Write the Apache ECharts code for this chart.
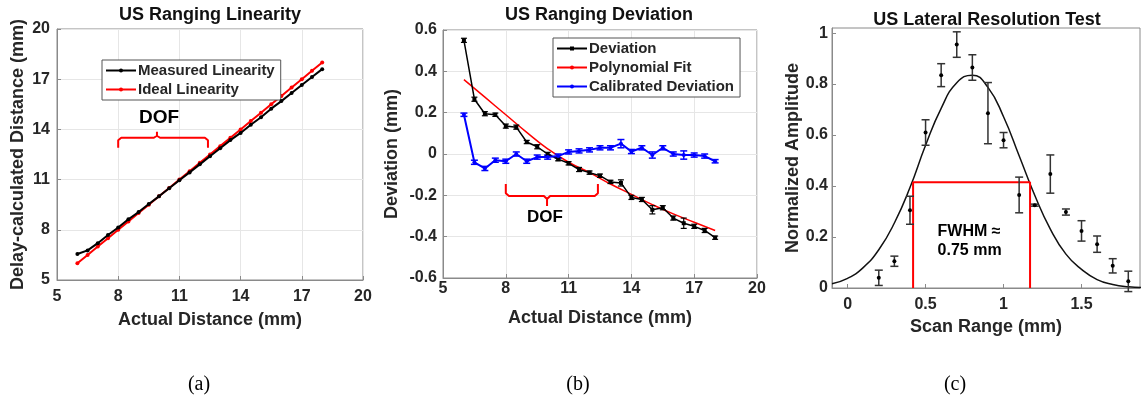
<!DOCTYPE html>
<html>
<head>
<meta charset="utf-8">
<script src="https://cdn.jsdelivr.net/npm/echarts@6/dist/echarts.min.js"></script>
<style>
  html, body { margin: 0; padding: 0; background: #fff; }
  #chart { width: 1141px; height: 408px; }
</style>
</head>
<body>
<div id="chart"></div>
<script>
// ---- data ----
// (a) US ranging linearity
const actualDist = [6, 6.5, 7, 7.5, 8, 8.5, 9, 9.5, 10, 10.5, 11, 11.5, 12, 12.5, 13, 13.5, 14, 14.5, 15, 15.5, 16, 16.5, 17, 17.5, 18];
const measuredDist = [6.55, 6.77, 7.2, 7.69, 8.14, 8.63, 9.06, 9.54, 10.0, 10.48, 10.96, 11.43, 11.91, 12.4, 12.87, 13.36, 13.79, 14.28, 14.73, 15.24, 15.69, 16.17, 16.65, 17.13, 17.6];
const idealDist = [6, 6.5, 7, 7.5, 8, 8.5, 9, 9.5, 10, 10.5, 11, 11.5, 12, 12.5, 13, 13.5, 14, 14.5, 15, 15.5, 16, 16.5, 17, 17.5, 18];
const braceA = [[8, 12.9], [8, 13.35], [8.15, 13.5], [9.75, 13.5], [9.9, 13.62], [9.9, 13.86], [9.9, 13.62], [10.05, 13.5], [12.25, 13.5], [12.4, 13.35], [12.4, 12.9]];
const dofA = [10.0, 14.68];

// (b) US ranging deviation
const deviation = [0.55, 0.265, 0.195, 0.19, 0.135, 0.13, 0.058, 0.035, 0.0, -0.025, -0.045, -0.075, -0.09, -0.105, -0.135, -0.14, -0.21, -0.22, -0.27, -0.26, -0.31, -0.335, -0.35, -0.37, -0.405];
const deviationErr = [0.01, 0.01, 0.01, 0.008, 0.01, 0.01, 0.008, 0.01, 0.008, 0.008, 0.008, 0.01, 0.008, 0.008, 0.008, 0.015, 0.01, 0.01, 0.02, 0.01, 0.01, 0.025, 0.01, 0.01, 0.008];
const fitX = [6, 7, 8, 9, 10, 11, 12, 13, 14, 15, 16, 17, 18];
const fitY = [0.36, 0.275, 0.19, 0.105, 0.025, -0.04, -0.09, -0.145, -0.195, -0.245, -0.29, -0.33, -0.37];
const calibrated = [0.19, -0.04, -0.07, -0.03, -0.035, 0.0, -0.035, -0.015, -0.015, -0.01, 0.01, 0.015, 0.02, 0.03, 0.03, 0.05, 0.012, 0.03, -0.005, 0.03, 0.0, -0.005, -0.005, -0.01, -0.035];
const calibratedErr = [0.008, 0.01, 0.01, 0.01, 0.01, 0.01, 0.01, 0.01, 0.01, 0.01, 0.01, 0.01, 0.01, 0.01, 0.01, 0.02, 0.01, 0.01, 0.015, 0.01, 0.01, 0.02, 0.01, 0.01, 0.008];
const braceB = [[8, -0.145], [8, -0.19], [8.15, -0.203], [9.82, -0.203], [9.97, -0.218], [9.97, -0.252], [9.97, -0.218], [10.12, -0.203], [12.25, -0.203], [12.4, -0.19], [12.4, -0.145]];
const dofB = [9.87, -0.305];

// (c) US lateral resolution test
const scanX = [0.2, 0.3, 0.4, 0.5, 0.6, 0.7, 0.8, 0.9, 1.0, 1.1, 1.2, 1.3, 1.4, 1.5, 1.6, 1.7, 1.8];
const amplitude = [0.04, 0.105, 0.305, 0.61, 0.835, 0.955, 0.865, 0.686, 0.58, 0.365, 0.325, 0.447, 0.298, 0.224, 0.172, 0.087, 0.026];
const amplitudeErr = [0.03, 0.02, 0.055, 0.05, 0.045, 0.05, 0.05, 0.12, 0.03, 0.07, 0.004, 0.075, 0.012, 0.04, 0.032, 0.028, 0.04];
const gaussX = [-0.1, 0, 0.1, 0.2, 0.3, 0.4, 0.5, 0.6, 0.7, 0.8, 0.9, 1.0, 1.1, 1.2, 1.3, 1.4, 1.5, 1.6, 1.7, 1.8, 1.9];
const gaussY = [0.017, 0.038, 0.08, 0.15, 0.255, 0.394, 0.56, 0.705, 0.805, 0.835, 0.787, 0.672, 0.519, 0.364, 0.231, 0.133, 0.073, 0.033, 0.014, 0.005, 0.002];
const fwhmBox = [[0.42, 0], [0.42, 0.415], [1.17, 0.415], [1.17, 0]];
const fwhmTextAt = [0.577, 0.184];
const scanTicks = [0, 0.5, 1, 1.5];

// ---- styling ----
const FONT = '"Liberation Sans", Arial, Helvetica, sans-serif';
const TEXT = '#262626';
const FRAME = '#8a8a8a';
const GRIDLINE = '#e6e6e6';

const pair = (xs, ys) => xs.map((x, i) => [x, ys[i]]);
const triple = (xs, ys, es) => xs.map((x, i) => [x, ys[i], es[i]]);

function errorBars(capHalf, color, width) {
    return function (params, api) {
        const x = api.value(0), y = api.value(1), e = api.value(2);
        const hi = api.coord([x, y + e]);
        const lo = api.coord([x, y - e]);
        const style = {stroke: color, lineWidth: width};
        return {
            type: 'group',
            children: [
                {type: 'line', shape: {x1: hi[0], y1: hi[1], x2: lo[0], y2: lo[1]}, style},
                {type: 'line', shape: {x1: hi[0] - capHalf, y1: hi[1], x2: hi[0] + capHalf, y2: hi[1]}, style},
                {type: 'line', shape: {x1: lo[0] - capHalf, y1: lo[1], x2: lo[0] + capHalf, y2: lo[1]}, style}
            ]
        };
    };
}

function axisBase(opt) {
    return Object.assign({
        type: 'value',
        axisLine: {show: true, onZero: false, lineStyle: {color: FRAME, width: 1}},
        axisTick: {show: true, inside: true, length: 4, lineStyle: {color: FRAME}},
        splitLine: {show: true, lineStyle: {color: GRIDLINE, width: 1}},
        axisLabel: {color: TEXT, fontSize: 16, fontWeight: 'bold', fontFamily: FONT},
        nameLocation: 'middle',
        nameTextStyle: {color: TEXT, fontSize: 18, fontWeight: 'bold', fontFamily: FONT}
    }, opt);
}

function textLabel(text, align, size) {
    return {
        show: true,
        formatter: text,
        position: [0, 0],
        align: align,
        verticalAlign: 'middle',
        color: '#000',
        opacity: 1,
        fontSize: size,
        fontWeight: 'bold',
        fontFamily: FONT,
        lineHeight: size + 3
    };
}

const legendBase = {
    orient: 'vertical',
    borderColor: '#555',
    borderWidth: 1,
    borderRadius: 0,
    backgroundColor: '#fff',
    itemWidth: 30,
    itemHeight: 5,
    itemGap: 4,
    padding: [3, 6, 3, 3],
    textStyle: {color: TEXT, fontSize: 15, fontWeight: 'bold', fontFamily: FONT, padding: [0, 0, 0, -3]}
};

const chart = echarts.init(document.getElementById('chart'));

const option = {
    backgroundColor: '#fff',
    animation: false,
    grid: [
        {left: 57, top: 29, width: 306, height: 251, show: true, borderColor: FRAME, borderWidth: 1},
        {left: 443, top: 30, width: 314, height: 248, show: true, borderColor: FRAME, borderWidth: 1},
        {left: 832, top: 28, width: 308, height: 260, show: true, borderColor: FRAME, borderWidth: 1}
    ],
    xAxis: [
        axisBase({gridIndex: 0, min: 5, max: 20, interval: 3, name: 'Actual Distance (mm)', nameGap: 31,
            axisLabel: {color: TEXT, fontSize: 16, fontWeight: 'bold', fontFamily: FONT, margin: 9}}),
        axisBase({gridIndex: 1, min: 5, max: 20, interval: 3, name: 'Actual Distance (mm)', nameGap: 31,
            axisLabel: {color: TEXT, fontSize: 16, fontWeight: 'bold', fontFamily: FONT, margin: 3}}),
        axisBase({gridIndex: 2, min: -0.1, max: 1.875, name: 'Scan Range (mm)', nameGap: 23,
            splitLine: {show: false},
            axisTick: {show: true, inside: true, length: 4, lineStyle: {color: FRAME}, customValues: scanTicks},
            axisLabel: {color: TEXT, fontSize: 16, fontWeight: 'bold', fontFamily: FONT, margin: 9, customValues: scanTicks}})
    ],
    yAxis: [
        axisBase({gridIndex: 0, min: 5, max: 20, interval: 3, name: 'Delay-calculated Distance (mm)', nameGap: 30,
            axisLabel: {color: TEXT, fontSize: 16, fontWeight: 'bold', fontFamily: FONT, margin: 7}}),
        axisBase({gridIndex: 1, min: -0.6, max: 0.6, interval: 0.2, name: 'Deviation (mm)', nameGap: 42,
            axisLabel: {color: TEXT, fontSize: 16, fontWeight: 'bold', fontFamily: FONT, margin: 6}}),
        axisBase({gridIndex: 2, min: 0, max: 1.02, interval: 0.2, name: 'Normalized Amplitude', nameGap: 28,
            splitLine: {show: false},
            axisLabel: {color: TEXT, fontSize: 16, fontWeight: 'bold', fontFamily: FONT, margin: 4, showMaxLabel: false}})
    ],
    legend: [
        Object.assign({}, legendBase, {left: 102, top: 60, data: ['Measured Linearity', 'Ideal Linearity']}),
        Object.assign({}, legendBase, {left: 553, top: 38, data: ['Deviation', 'Polynomial Fit', 'Calibrated Deviation']})
    ],
    graphic: [
        {type: 'text', x: 210, y: 15, style: {text: 'US Ranging Linearity', font: 'bold 18px ' + FONT, fill: '#111', textAlign: 'center', textVerticalAlign: 'middle'}},
        {type: 'text', x: 599, y: 15, style: {text: 'US Ranging Deviation', font: 'bold 18px ' + FONT, fill: '#111', textAlign: 'center', textVerticalAlign: 'middle'}},
        {type: 'text', x: 987, y: 20, style: {text: 'US Lateral Resolution Test', font: 'bold 18px ' + FONT, fill: '#111', textAlign: 'center', textVerticalAlign: 'middle'}},
        {type: 'text', x: 199, y: 385, style: {text: '(a)', font: '20px "Liberation Serif", "Times New Roman", serif', fill: '#000', textAlign: 'center', textVerticalAlign: 'middle'}},
        {type: 'text', x: 578, y: 385, style: {text: '(b)', font: '20px "Liberation Serif", "Times New Roman", serif', fill: '#000', textAlign: 'center', textVerticalAlign: 'middle'}},
        {type: 'text', x: 955, y: 385, style: {text: '(c)', font: '20px "Liberation Serif", "Times New Roman", serif', fill: '#000', textAlign: 'center', textVerticalAlign: 'middle'}}
    ],
    series: [
        // (a)
        {
            name: 'Ideal Linearity', type: 'line', xAxisIndex: 0, yAxisIndex: 0,
            data: pair(actualDist, idealDist), color: '#ff0000',
            lineStyle: {width: 2}, symbol: 'circle', symbolSize: 4, z: 3
        },
        {
            name: 'Measured Linearity', type: 'line', xAxisIndex: 0, yAxisIndex: 0,
            data: pair(actualDist, measuredDist), color: '#000',
            lineStyle: {width: 2}, symbol: 'circle', symbolSize: 4, z: 4
        },
        {
            type: 'line', xAxisIndex: 0, yAxisIndex: 0, data: braceA, symbol: 'none',
            lineStyle: {color: '#ff0000', width: 2}, silent: true
        },
        {
            type: 'scatter', xAxisIndex: 0, yAxisIndex: 0, data: [dofA], symbolSize: 0,
            itemStyle: {opacity: 1}, label: textLabel('DOF', 'center', 19), silent: true
        },
        // (b)
        {
            name: 'Deviation', type: 'line', xAxisIndex: 1, yAxisIndex: 1,
            data: pair(actualDist, deviation), color: '#000',
            lineStyle: {width: 1.5}, symbol: 'rect', symbolSize: 4, z: 4
        },
        {
            type: 'custom', xAxisIndex: 1, yAxisIndex: 1, data: triple(actualDist, deviation, deviationErr),
            renderItem: errorBars(3, '#000', 1.2), encode: {x: 0, y: 1}, z: 4, silent: true
        },
        {
            name: 'Polynomial Fit', type: 'line', xAxisIndex: 1, yAxisIndex: 1,
            data: pair(fitX, fitY), color: '#ff0000', smooth: true,
            lineStyle: {width: 1.5}, symbol: 'none', z: 3
        },
        {
            name: 'Calibrated Deviation', type: 'line', xAxisIndex: 1, yAxisIndex: 1,
            data: pair(actualDist, calibrated), color: '#0000ff',
            lineStyle: {width: 2}, symbol: 'circle', symbolSize: 4, z: 4
        },
        {
            type: 'custom', xAxisIndex: 1, yAxisIndex: 1, data: triple(actualDist, calibrated, calibratedErr),
            renderItem: errorBars(3.5, '#0000ff', 1.5), encode: {x: 0, y: 1}, z: 4, silent: true
        },
        {
            type: 'line', xAxisIndex: 1, yAxisIndex: 1, data: braceB, symbol: 'none',
            lineStyle: {color: '#ff0000', width: 2}, silent: true
        },
        {
            type: 'scatter', xAxisIndex: 1, yAxisIndex: 1, data: [dofB], symbolSize: 0,
            itemStyle: {opacity: 1}, label: textLabel('DOF', 'center', 17), silent: true
        },
        // (c)
        {
            type: 'line', xAxisIndex: 2, yAxisIndex: 2, data: pair(gaussX, gaussY), smooth: true,
            symbol: 'none', lineStyle: {color: '#111', width: 1.5}, silent: true
        },
        {
            type: 'custom', xAxisIndex: 2, yAxisIndex: 2, data: triple(scanX, amplitude, amplitudeErr),
            renderItem: errorBars(4, '#333', 1.5), encode: {x: 0, y: 1}, z: 4, silent: true
        },
        {
            type: 'scatter', xAxisIndex: 2, yAxisIndex: 2, data: pair(scanX, amplitude),
            symbol: 'circle', symbolSize: 4, itemStyle: {color: '#000', opacity: 1}, z: 5, silent: true
        },
        {
            type: 'line', xAxisIndex: 2, yAxisIndex: 2, data: fwhmBox, symbol: 'none',
            lineStyle: {color: '#ff0000', width: 2}, silent: true, z: 3
        },
        {
            type: 'scatter', xAxisIndex: 2, yAxisIndex: 2, data: [fwhmTextAt], symbolSize: 0,
            itemStyle: {opacity: 1}, label: textLabel('FWHM ≈\n0.75 mm', 'left', 16), silent: true
        }
    ]
};

chart.setOption(option);
</script>
</body>
</html>
